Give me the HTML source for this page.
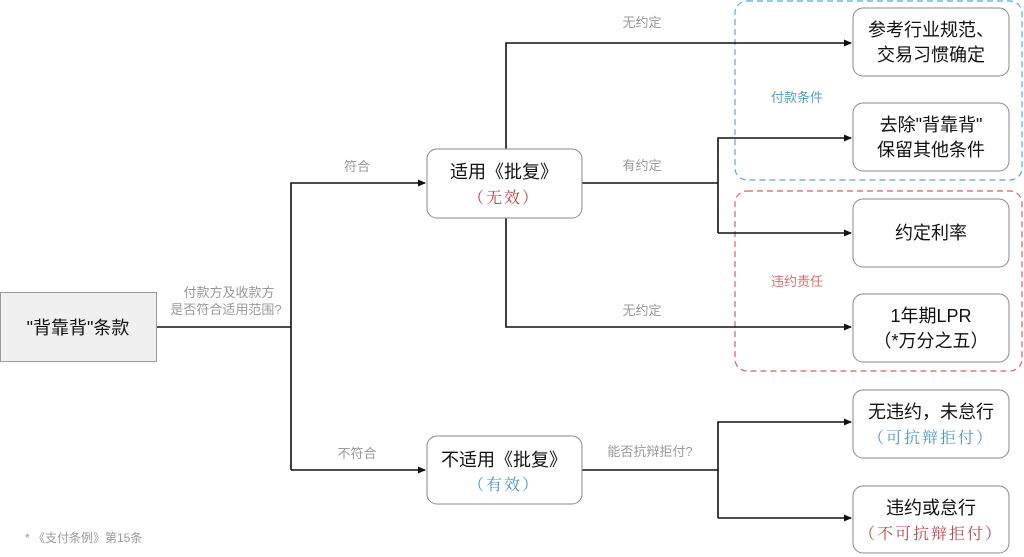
<!DOCTYPE html>
<html><head><meta charset="utf-8"><style>
html,body{margin:0;padding:0;background:#fff;}
svg{display:block;}
text{font-family:"Liberation Sans","Noto Sans CJK SC",sans-serif;}
.m{font-size:18px;fill:#111;text-anchor:middle;}
.l{font-size:13px;fill:#999;text-anchor:middle;}
.s{font-family:"Liberation Serif","Noto Serif CJK SC",serif;font-size:16px;text-anchor:middle;letter-spacing:2px;}
.b{fill:#fff;stroke:#888;stroke-width:1;}
.ln{fill:none;stroke:#111;stroke-width:1.6;}
</style></head><body>
<svg width="1024" height="557" viewBox="0 0 1024 557" xmlns="http://www.w3.org/2000/svg">
<defs><marker id="a" markerWidth="8" markerHeight="8" refX="7" refY="4" orient="auto" markerUnits="userSpaceOnUse"><path d="M0,0.5 L8,4 L0,7.5z" fill="#111"/></marker></defs>
<rect x="735" y="1" width="287" height="179" rx="12" fill="none" stroke="#5aa9d0" stroke-width="1.2" stroke-dasharray="6,4"/>
<rect x="735" y="191" width="287" height="180" rx="12" fill="none" stroke="#d06060" stroke-width="1.2" stroke-dasharray="6,4"/>
<text x="797" y="102" style="font-size:13px;fill:#5a9fc6;text-anchor:middle">付款条件</text>
<text x="797" y="286" style="font-size:13px;fill:#d07070;text-anchor:middle">违约责任</text>
<path class="ln" d="M157,327 H291"/>
<path class="ln" d="M291,470 V183 H425" marker-end="url(#a)"/>
<path class="ln" d="M291,470 H425" marker-end="url(#a)"/>
<path class="ln" d="M506,149 V43 H851" marker-end="url(#a)"/>
<path class="ln" d="M582,183 H718"/>
<path class="ln" d="M718,233 V138 H851" marker-end="url(#a)"/>
<path class="ln" d="M718,233 H851" marker-end="url(#a)"/>
<path class="ln" d="M506,218 V327 H851" marker-end="url(#a)"/>
<path class="ln" d="M582,470 H718"/>
<path class="ln" d="M718,518 V422 H851" marker-end="url(#a)"/>
<path class="ln" d="M718,518 H851" marker-end="url(#a)"/>
<text class="l" x="642" y="27">无约定</text>
<text class="l" x="642" y="170">有约定</text>
<text class="l" x="642" y="315">无约定</text>
<text class="l" x="357" y="171">符合</text>
<text class="l" x="357" y="458">不符合</text>
<text class="l" x="650" y="456">能否抗辩拒付?</text>
<text class="l" x="229" y="297">付款方及收款方</text>
<text class="l" x="226" y="314">是否符合适用范围?</text>
<rect x="0.5" y="292.5" width="156" height="69" fill="#f0f0f0" stroke="#999"/>
<text class="m" x="78" y="334">"背靠背"条款</text>
<rect class="b" x="427" y="149" width="155" height="69" rx="10"/>
<text class="m" x="504" y="178">适用《批复》</text>
<text class="s" x="504" y="203" style="fill:#b84545">（无效）</text>
<rect class="b" x="427" y="436" width="155" height="68" rx="10"/>
<text class="m" x="504" y="466">不适用《批复》</text>
<text class="s" x="504" y="490" style="fill:#4d94c4">（有效）</text>
<rect class="b" x="853" y="8" width="156" height="68" rx="10"/>
<text class="m" x="931" y="36">参考行业规范、</text>
<text class="m" x="931" y="61">交易习惯确定</text>
<rect class="b" x="853" y="103" width="156" height="68" rx="10"/>
<text class="m" x="931" y="131">去除"背靠背"</text>
<text class="m" x="931" y="156">保留其他条件</text>
<rect class="b" x="853" y="199" width="156" height="68" rx="10"/>
<text class="m" x="931" y="239">约定利率</text>
<rect class="b" x="853" y="294" width="156" height="68" rx="10"/>
<text class="m" x="931" y="322">1年期LPR</text>
<text class="m" x="931" y="347">（*万分之五）</text>
<rect class="b" x="853" y="390" width="156" height="68" rx="10"/>
<text class="m" x="931" y="418">无违约，未怠行</text>
<text class="s" x="931" y="443" style="fill:#4d94c4">（可抗辩拒付）</text>
<rect class="b" x="853" y="486" width="156" height="67" rx="10"/>
<text class="m" x="931" y="514">违约或怠行</text>
<text class="s" x="931" y="539" style="fill:#b84545">（不可抗辩拒付）</text>
<text x="25" y="542" style="font-size:12px;fill:#999">* 《支付条例》第15条</text>
</svg>
</body></html>
